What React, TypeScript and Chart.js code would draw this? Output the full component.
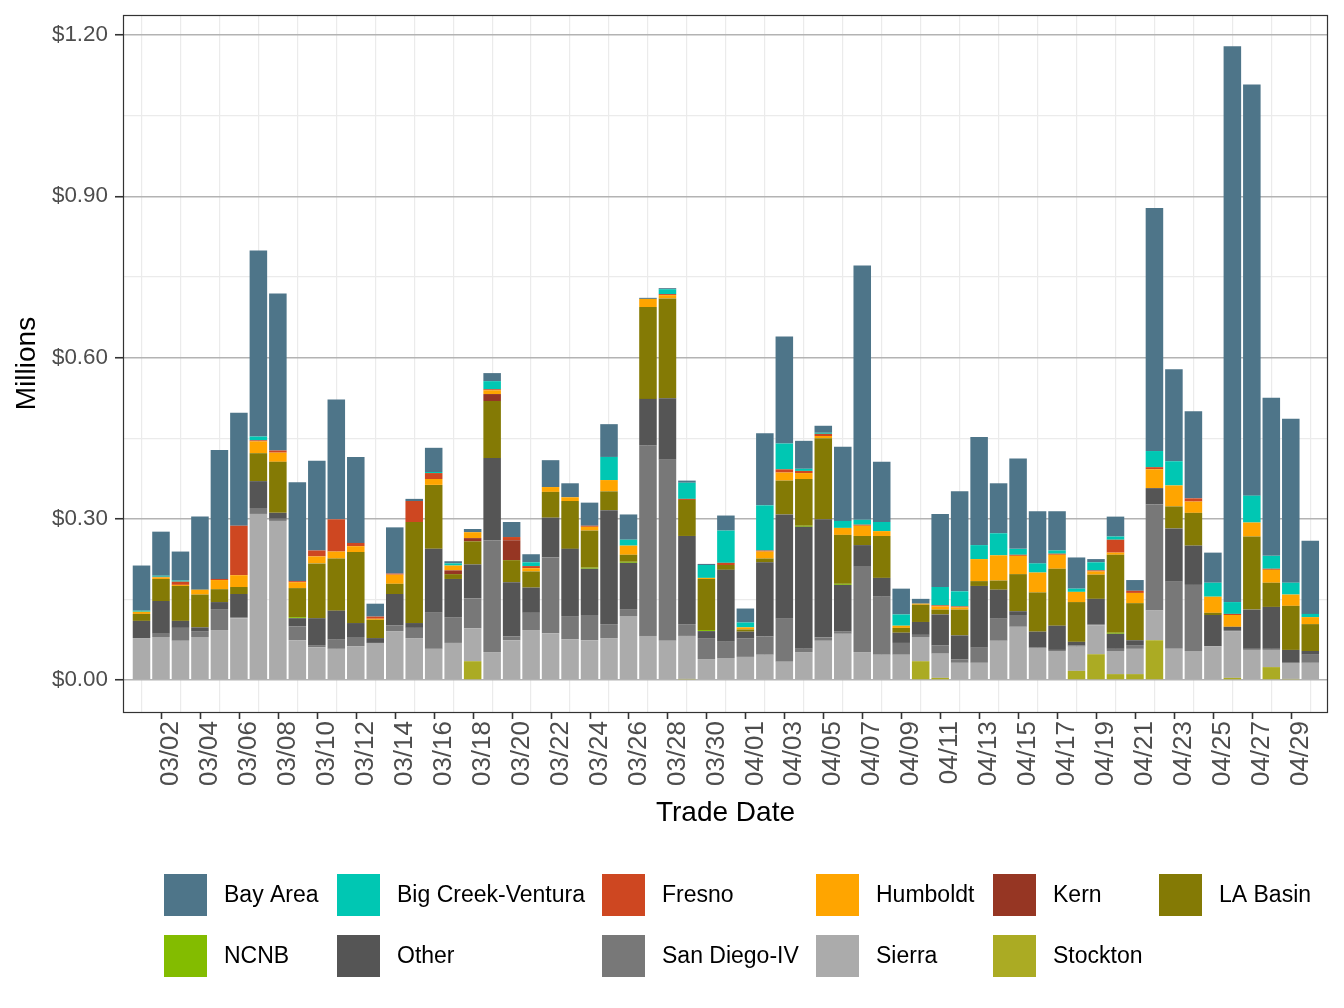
import { useEffect, useRef } from "react";
import { Chart, registerables } from "chart.js";

Chart.register(...registerables);

// Trade dates, one bar per day (March 1 through April 30)
const tradeDates = [
  "03/01", "03/02", "03/03", "03/04", "03/05", "03/06", "03/07", "03/08", "03/09", "03/10",
  "03/11", "03/12", "03/13", "03/14", "03/15", "03/16", "03/17", "03/18", "03/19", "03/20",
  "03/21", "03/22", "03/23", "03/24", "03/25", "03/26", "03/27", "03/28", "03/29", "03/30",
  "03/31", "04/01", "04/02", "04/03", "04/04", "04/05", "04/06", "04/07", "04/08", "04/09",
  "04/10", "04/11", "04/12", "04/13", "04/14", "04/15", "04/16", "04/17", "04/18", "04/19",
  "04/20", "04/21", "04/22", "04/23", "04/24", "04/25", "04/26", "04/27", "04/28", "04/29",
  "04/30",
];

// Labelled x ticks (every other trade date, starting at 03/02)
const xTickIndices = [
  1, 3, 5, 7, 9, 11, 13, 15, 17, 19, 21, 23, 25, 27, 29,
  31, 33, 35, 37, 39, 41, 43, 45, 47, 49, 51, 53, 55, 57, 59,
];

// y breaks in millions; every other one carries a label
const yBreaks = [0, 0.15, 0.3, 0.45, 0.6, 0.75, 0.9, 1.05, 1.2];

// Daily values by region, in millions of dollars
const stockton = [
  0, 0, 0, 0, 0, 0, 0, 0, 0, 0,
  0, 0, 0, 0, 0, 0, 0, 0.035, 0, 0,
  0, 0, 0, 0, 0, 0, 0, 0, 0.002, 0,
  0, 0, 0, 0, 0, 0, 0, 0, 0, 0,
  0.035, 0.004, 0, 0, 0, 0, 0, 0, 0.017, 0.048,
  0.011, 0.011, 0.074, 0, 0, 0, 0.004, 0, 0.024, 0.002,
  0,
];
const sierra = [
  0.078, 0.080, 0.073, 0.080, 0.093, 0.115, 0.309, 0.296, 0.074, 0.061,
  0.058, 0.063, 0.069, 0.091, 0.078, 0.058, 0.069, 0.061, 0.052, 0.074,
  0.093, 0.087, 0.076, 0.074, 0.078, 0.119, 0.082, 0.073, 0.080, 0.039,
  0.041, 0.043, 0.047, 0.034, 0.052, 0.073, 0.086, 0.052, 0.047, 0.047,
  0.045, 0.045, 0.032, 0.032, 0.073, 0.099, 0.060, 0.054, 0.045, 0.054,
  0.043, 0.047, 0.056, 0.058, 0.054, 0.063, 0.087, 0.056, 0.032, 0.030,
  0.032,
];
const sanDiegoIV = [
  0, 0.006, 0.024, 0.011, 0.039, 0.002, 0.011, 0.004, 0.026, 0.004,
  0.017, 0.017, 0, 0.011, 0.019, 0.067, 0.048, 0.056, 0.208, 0.007,
  0.032, 0.141, 0.043, 0.047, 0.026, 0.013, 0.354, 0.337, 0.022, 0.039,
  0.030, 0.034, 0.034, 0.080, 0.006, 0.006, 0.004, 0.160, 0.108, 0.022,
  0.004, 0.015, 0.006, 0.028, 0.041, 0.022, 0, 0.002, 0.002, 0.002,
  0.004, 0.007, 0.197, 0.125, 0.123, 0, 0.002, 0.002, 0.002, 0,
  0.015,
];
const other = [
  0.032, 0.061, 0.013, 0.007, 0.013, 0.043, 0.050, 0.011, 0.015, 0.050,
  0.054, 0.026, 0.009, 0.058, 0.009, 0.119, 0.071, 0.063, 0.153, 0.101,
  0.047, 0.074, 0.125, 0.086, 0.212, 0.086, 0.087, 0.114, 0.164, 0.013,
  0.134, 0.013, 0.138, 0.194, 0.227, 0.220, 0.087, 0.039, 0.035, 0.019,
  0.024, 0.058, 0.045, 0.115, 0.054, 0.007, 0.030, 0.045, 0.007, 0.047,
  0.028, 0.009, 0.030, 0.099, 0.073, 0.058, 0.006, 0.073, 0.078, 0.024,
  0.007,
];
const ncnb = [
  0, 0, 0, 0, 0, 0, 0, 0, 0.002, 0,
  0, 0, 0, 0, 0, 0, 0, 0, 0, 0,
  0, 0, 0, 0.002, 0, 0.002, 0, 0, 0, 0.002,
  0, 0, 0, 0, 0.002, 0, 0.002, 0, 0, 0,
  0, 0, 0, 0, 0, 0, 0, 0, 0, 0,
  0.002, 0, 0, 0, 0, 0, 0, 0, 0, 0,
  0,
];
const laBasin = [
  0.013, 0.041, 0.065, 0.061, 0.024, 0.013, 0.052, 0.095, 0.054, 0.102,
  0.097, 0.132, 0.034, 0.019, 0.188, 0.119, 0.009, 0.043, 0.106, 0.041,
  0.030, 0.048, 0.089, 0.069, 0.035, 0.013, 0.171, 0.186, 0.067, 0.095,
  0.009, 0.004, 0.007, 0.063, 0.087, 0.151, 0.091, 0.017, 0.078, 0.009,
  0.032, 0.009, 0.048, 0.009, 0.017, 0.069, 0.073, 0.106, 0.074, 0.045,
  0.145, 0.069, 0, 0.041, 0.061, 0.004, 0, 0.136, 0.045, 0.082,
  0.050,
];
const kern = [
  0, 0, 0, 0, 0, 0, 0, 0, 0, 0,
  0, 0, 0, 0, 0, 0, 0.007, 0.006, 0.013, 0.037,
  0, 0, 0, 0, 0, 0, 0, 0, 0, 0,
  0, 0, 0, 0, 0, 0, 0, 0, 0, 0,
  0, 0, 0, 0, 0, 0, 0, 0, 0, 0,
  0, 0, 0, 0, 0, 0, 0, 0, 0, 0,
  0,
];
const humboldt = [
  0.004, 0.003, 0.002, 0.009, 0.017, 0.022, 0.022, 0.017, 0.011, 0.013,
  0.013, 0.011, 0.002, 0.017, 0, 0.011, 0.009, 0.011, 0.007, 0,
  0.006, 0.009, 0.007, 0.007, 0.021, 0.017, 0.015, 0.006, 0, 0.002,
  0, 0.004, 0.013, 0.015, 0.011, 0.004, 0.013, 0.019, 0.009, 0.004,
  0.002, 0.006, 0.004, 0.041, 0.047, 0.034, 0.037, 0.026, 0.019, 0.006,
  0.004, 0.019, 0.035, 0.039, 0.021, 0.030, 0.022, 0.026, 0.024, 0.021,
  0.013,
];
const fresno = [
  0, 0.001, 0.006, 0, 0.002, 0.092, 0.002, 0.004, 0.002, 0.011,
  0.060, 0.006, 0.004, 0.002, 0.039, 0.011, 0, 0, 0.002, 0.006,
  0.004, 0, 0, 0.002, 0, 0, 0, 0.002, 0.002, 0,
  0.004, 0, 0.002, 0.006, 0.004, 0.004, 0, 0.002, 0, 0,
  0, 0.002, 0.002, 0, 0, 0.002, 0, 0.002, 0, 0.002,
  0.024, 0.004, 0.004, 0, 0.006, 0, 0.002, 0, 0.002, 0,
  0,
];
const bigCreekVentura = [
  0.002, 0.002, 0.002, 0, 0, 0, 0.007, 0, 0, 0,
  0, 0, 0, 0, 0, 0.002, 0.004, 0, 0.015, 0,
  0.007, 0, 0, 0, 0.043, 0.011, 0, 0.009, 0.030, 0.024,
  0.060, 0.009, 0.084, 0.048, 0.004, 0.002, 0.013, 0.009, 0.017, 0.021,
  0, 0.034, 0.028, 0.026, 0.041, 0.011, 0.017, 0.006, 0.006, 0.015,
  0.006, 0, 0.030, 0.045, 0, 0.026, 0.022, 0.050, 0.024, 0.022,
  0.006,
];
const bayArea = [
  0.084, 0.082, 0.054, 0.136, 0.240, 0.210, 0.346, 0.292, 0.184, 0.167,
  0.223, 0.160, 0.024, 0.086, 0.004, 0.045, 0.004, 0.006, 0.015, 0.028,
  0.015, 0.050, 0.026, 0.043, 0.061, 0.047, 0.002, 0.002, 0.004, 0.002,
  0.028, 0.026, 0.134, 0.199, 0.052, 0.013, 0.138, 0.473, 0.112, 0.048,
  0.009, 0.136, 0.186, 0.201, 0.093, 0.168, 0.097, 0.073, 0.058, 0.006,
  0.037, 0.020, 0.452, 0.171, 0.162, 0.056, 1.034, 0.765, 0.294, 0.305,
  0.136,
];

// Legend order (top of the stack first)
const regionNames = [
  "Bay Area", "Big Creek-Ventura", "Fresno", "Humboldt", "Kern", "LA Basin",
  "NCNB", "Other", "San Diego-IV", "Sierra", "Stockton",
];
const regionColors = [
  "#4E7589", "#00C7B3", "#CE4721", "#FFA500", "#963623", "#847A05",
  "#83BC00", "#555555", "#787878", "#ABABAB", "#ABAB23",
];
const regionValues = [
  bayArea, bigCreekVentura, fresno, humboldt, kern, laBasin,
  ncnb, other, sanDiegoIV, sierra, stockton,
];

const FONT = '"Liberation Sans", Helvetica, Arial, sans-serif';
const W = 1344;
const H = 1008;
const PANEL = { left: 123, top: 15, right: 1328, bottom: 712 };

const isMajor = (v: number) => Math.abs(v / 0.3 - Math.round(v / 0.3)) < 1e-6;

// Panel frame, x tick marks, axis titles and the two-row legend
const decorations = {
  id: "decorations",
  afterDraw(chart: any) {
    const ctx = chart.ctx as CanvasRenderingContext2D;
    const xs = chart.scales.x;
    ctx.save();

    ctx.strokeStyle = "#333333";
    ctx.lineWidth = 1.2;
    ctx.strokeRect(PANEL.left + 0.5, PANEL.top + 0.5, PANEL.right - PANEL.left - 1, PANEL.bottom - PANEL.top);

    ctx.lineWidth = 1.6;
    for (const v of xTickIndices) {
      const px = Math.round(xs.getPixelForValue(v)) + 0.5;
      ctx.beginPath();
      ctx.moveTo(px, PANEL.bottom);
      ctx.lineTo(px, PANEL.bottom + 7);
      ctx.stroke();
    }

    ctx.fillStyle = "#000000";
    ctx.font = `28px ${FONT}`;
    ctx.textAlign = "center";
    ctx.textBaseline = "alphabetic";
    ctx.fillText("Trade Date", (PANEL.left + PANEL.right) / 2, 821);

    ctx.save();
    ctx.translate(35, (PANEL.top + PANEL.bottom) / 2);
    ctx.rotate(-Math.PI / 2);
    ctx.fillText("Millions", 0, 0);
    ctx.restore();

    const colX = [164, 337, 602, 816, 993, 1159];
    const rowY = [874, 935];
    ctx.font = `23px ${FONT}`;
    ctx.textAlign = "left";
    ctx.textBaseline = "middle";
    regionNames.forEach((name, i) => {
      const col = i % 6;
      const row = Math.floor(i / 6);
      const kx = colX[col];
      const ky = rowY[row];
      ctx.fillStyle = regionColors[i];
      ctx.fillRect(kx, ky, 43, 42);
      ctx.fillStyle = "#000000";
      ctx.fillText(name, kx + 60, ky + 22);
    });

    ctx.restore();
  },
};

export default function App() {
  const canvasRef = useRef<HTMLCanvasElement | null>(null);

  useEffect(() => {
    const canvas = canvasRef.current;
    if (!canvas) return;

    // stacked bottom-up: last legend entry sits at the base
    const datasets = regionNames
      .map((name, i) => ({
        label: name,
        data: regionValues[i].map((v, d) => ({ x: d, y: v })),
        backgroundColor: regionColors[i],
        borderWidth: 0,
        barPercentage: 0.9,
        categoryPercentage: 1,
      }))
      .reverse();

    const chart = new Chart(canvas, {
      type: "bar",
      data: { datasets },
      options: {
        animation: false,
        responsive: false,
        devicePixelRatio: 1,
        layout: { padding: { left: 0, top: PANEL.top, right: W - PANEL.right, bottom: 0 } },
        plugins: { legend: { display: false }, tooltip: { enabled: false } },
        scales: {
          x: {
            type: "linear",
            stacked: true,
            offset: false,
            min: -0.95,
            max: 60.91,
            afterBuildTicks: (s: any) => {
              s.ticks = xTickIndices.map((v) => ({ value: v }));
            },
            afterFit: (s: any) => {
              s.height = H - PANEL.bottom;
              s.paddingLeft = 0;
              s.paddingRight = 0;
            },
            border: { display: false },
            grid: { offset: true, drawTicks: false, color: "#ebebeb", lineWidth: 1.2 },
            ticks: {
              autoSkip: false,
              minRotation: 90,
              maxRotation: 90,
              padding: 9,
              labelOffset: 10,
              color: "#4d4d4d",
              font: { family: FONT, size: 26 },
              callback: (v: any) => tradeDates[Math.round(Number(v))] ?? "",
            },
          },
          y: {
            type: "linear",
            stacked: true,
            min: -0.0595,
            max: 1.2372,
            afterBuildTicks: (s: any) => {
              s.ticks = yBreaks.map((v) => ({ value: v }));
            },
            afterFit: (s: any) => {
              s.width = PANEL.left;
              s.paddingTop = 0;
              s.paddingBottom = 0;
            },
            border: { display: false },
            grid: {
              drawTicks: true,
              tickLength: 8,
              tickWidth: 1.6,
              color: (c: any) => (c.tick && isMajor(c.tick.value) ? "#b3b3b3" : "#ebebeb"),
              lineWidth: (c: any) => (c.tick && isMajor(c.tick.value) ? 1.5 : 1.2),
              tickColor: (c: any) => (c.tick && isMajor(c.tick.value) ? "#333333" : "rgba(0,0,0,0)"),
            },
            ticks: {
              padding: 7,
              color: "#4d4d4d",
              font: { family: FONT, size: 22.4 },
              callback: (v: any) => (isMajor(Number(v)) ? "$" + Number(v).toFixed(2) : ""),
            },
          },
        },
      },
      plugins: [decorations],
    } as any);

    return () => {
      chart.destroy();
    };
  }, []);

  return (
    <div style={{ position: "absolute", left: 0, top: 0, width: W, height: H, background: "#ffffff" }}>
      <canvas ref={canvasRef} width={W} height={H} style={{ display: "block", width: W, height: H }} />
    </div>
  );
}
